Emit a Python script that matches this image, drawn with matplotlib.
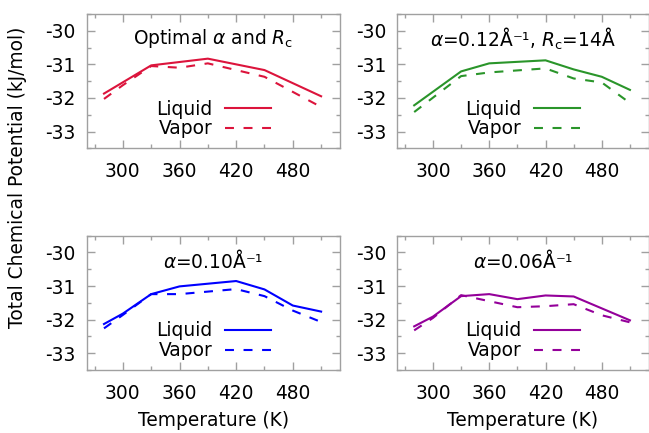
import matplotlib
matplotlib.use("Agg")
import matplotlib.pyplot as plt
from matplotlib.ticker import MultipleLocator

# temperatures (K) and chemical potentials (kJ/mol) for each Ewald setting
opt_liq_T = [280, 330, 390, 450, 510]
opt_liq = [-31.87, -31.03, -30.83, -31.17, -31.95]
opt_vap_T = [280, 300, 330, 360, 390, 450, 510]
opt_vap = [-32.03, -31.62, -31.05, -31.10, -30.97, -31.37, -32.27]

a12_liq_T = [280, 330, 360, 420, 450, 480, 510]
a12_liq = [-32.22, -31.21, -30.97, -30.88, -31.15, -31.37, -31.76]
a12_vap_T = [280, 330, 360, 420, 450, 480, 510]
a12_vap = [-32.42, -31.35, -31.24, -31.12, -31.42, -31.54, -32.15]

a10_liq_T = [280, 300, 330, 360, 420, 450, 480, 510]
a10_liq = [-32.13, -31.82, -31.24, -31.01, -30.85, -31.10, -31.58, -31.76]
a10_vap_T = [280, 300, 330, 360, 420, 450, 480, 510]
a10_vap = [-32.26, -31.86, -31.24, -31.24, -31.09, -31.30, -31.73, -32.07]

a06_liq_T = [280, 300, 330, 360, 390, 420, 450, 510]
a06_liq = [-32.20, -31.91, -31.30, -31.24, -31.39, -31.28, -31.31, -32.02]
a06_vap_T = [280, 300, 330, 360, 390, 420, 450, 480, 510]
a06_vap = [-32.32, -31.95, -31.27, -31.45, -31.63, -31.60, -31.54, -31.87, -32.08]

titles = [r"Optimal $\alpha$ and $R_\mathrm{c}$",
          r"$\alpha$=0.12Å⁻¹, $R_\mathrm{c}$=14Å",
          r"$\alpha$=0.10Å⁻¹",
          r"$\alpha$=0.06Å⁻¹"]
colors = ["#dc143c", "#2a952a", "#0000ff", "#94009a"]
series = [(opt_liq_T, opt_liq, opt_vap_T, opt_vap),
          (a12_liq_T, a12_liq, a12_vap_T, a12_vap),
          (a10_liq_T, a10_liq, a10_vap_T, a10_vap),
          (a06_liq_T, a06_liq, a06_vap_T, a06_vap)]

plt.rcParams["font.family"] = "DejaVu Sans"
plt.rcParams["font.size"] = 13.4
plt.rcParams["mathtext.fontset"] = "dejavusans"
plt.rcParams["axes.unicode_minus"] = False

W, H = 649, 433
fig = plt.figure(figsize=(W / 100, H / 100), dpi=100)

# panel boxes in pixels: left, top, right, bottom
boxes = [(87, 14, 340, 148.3), (397.3, 14, 648.7, 148.3),
         (87, 235.7, 340, 370), (397.3, 235.7, 648.7, 370)]
frame = "#a0a0a0"

for i, (box, title, col, (lT, lv, vT, vv)) in enumerate(zip(boxes, titles, colors, series)):
    l, t, r, b = box
    ax = fig.add_axes([l / W, 1 - b / H, (r - l) / W, (b - t) / H])
    ax.plot(lT, lv, color=col, lw=1.5, label="Liquid")
    ax.plot(vT, vv, color=col, lw=1.5, dashes=(4.3, 4.6), label="Vapor")
    ax.set_xlim(262, 530)
    ax.set_ylim(-33.5, -29.5)
    ax.xaxis.set_major_locator(MultipleLocator(60))
    ax.xaxis.set_minor_locator(MultipleLocator(30))
    ax.yaxis.set_major_locator(MultipleLocator(1))
    ax.yaxis.set_minor_locator(MultipleLocator(0.5))
    ax.tick_params(which="both", direction="in", top=True, right=True, color=frame, width=1)
    ax.tick_params(which="major", length=6)
    ax.tick_params(which="minor", length=3)
    ax.tick_params(axis="x", pad=10)
    ax.tick_params(axis="y", pad=8)
    for s in ax.spines.values():
        s.set_color(frame)
        s.set_linewidth(1)
    ax.text(0.5, 0.814, title, transform=ax.transAxes, ha="center", va="center")
    ax.legend(loc="center right", bbox_to_anchor=(0.727, 0.218), frameon=False,
              markerfirst=False, handlelength=2.45, handletextpad=0.7,
              labelspacing=0.05, borderpad=0, borderaxespad=0)
    if i >= 2:
        ax.set_xlabel("Temperature (K)", labelpad=6)

fig.text(18 / W, 1 - 177 / H, "Total Chemical Potential (kJ/mol)",
         rotation=90, ha="center", va="center")

fig.savefig("out.png", dpi=100)
